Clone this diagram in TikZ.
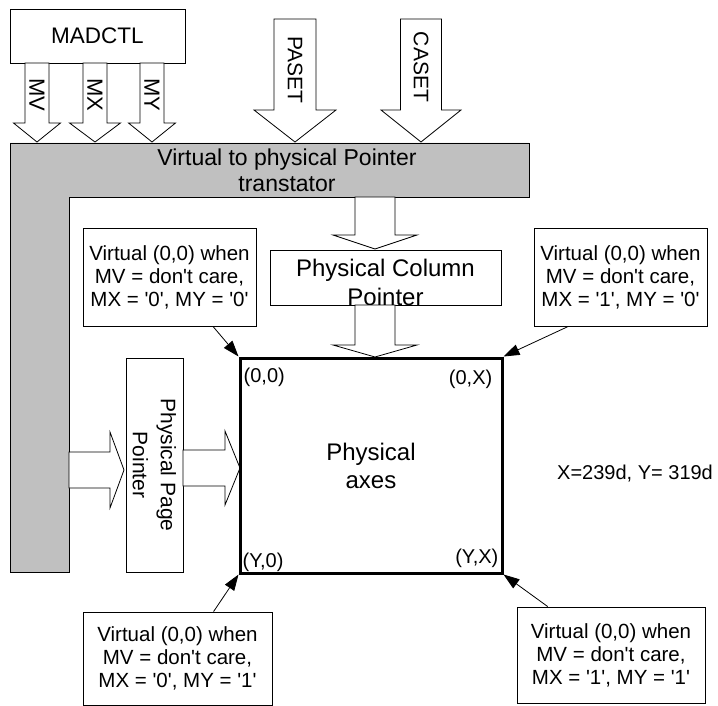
\documentclass[tikz,border=0pt]{standalone}
\usepackage{fontspec}
\setmainfont{Liberation Sans}[Ligatures=TeXOff]
\usetikzlibrary{arrows.meta,calc}

\definecolor{bargray}{RGB}{192,192,192}

% hollow block arrows: centre, start, head base, tip, half shaft, half head
\newcommand{\flowdown}[6]{%
  \draw[flow] ({#1-#5},#2) -- ({#1+#5},#2) -- ({#1+#5},#3) -- ({#1+#6},#3)
    -- (#1,#4) -- ({#1-#6},#3) -- ({#1-#5},#3) -- cycle;}
\newcommand{\flowright}[6]{%
  \draw[flow] (#2,{#1-#5}) -- (#3,{#1-#5}) -- (#3,{#1-#6}) -- (#4,#1)
    -- (#3,{#1+#6}) -- (#3,{#1+#5}) -- (#2,{#1+#5}) -- cycle;}

\begin{document}
\begin{tikzpicture}[x=1pt, y=-1pt,
    box/.style={draw, line width=0.8pt, fill=white, align=center},
    big/.style={font=\fontsize{23}{26}\selectfont},
    note/.style={box, inner sep=0pt, font=\fontsize{20.5}{23}\selectfont},
    corner/.style={inner sep=0pt, font=\fontsize{20}{24}\selectfont},
    flow/.style={draw, line width=0.8pt, fill=white},
    pointer/.style={-{Triangle[length=16pt,width=11pt]}, line width=0.8pt},
]
\useasboundingbox (0,0) rectangle (718,706);

% translator frame
\draw[flow, fill=bargray] (10,143) -- (529,143) -- (529,197) -- (69,197)
    -- (69,572) -- (10,572) -- cycle;
\node[big, align=center] (xlat) at (287,170) {Virtual to physical Pointer\\transtator};

% MADCTL bits
\node[box, big, font=\fontsize{22.5}{26}\selectfont, minimum width=175pt, minimum height=54pt] (madctl) at (97.5,36) {MADCTL};
\flowdown{37}{63}{123}{142}{12}{23.5}
\flowdown{95}{63}{123}{142}{12}{25.5}
\flowdown{152}{63}{123}{142}{12}{23.5}
\node[big, font=\fontsize{22}{26}\selectfont, rotate=-90] (mv) at (37,95) {MV};
\node[big, font=\fontsize{22}{26}\selectfont, rotate=-90] (mx) at (95,95) {MX};
\node[big, font=\fontsize{22}{26}\selectfont, rotate=-90] (my) at (152,95) {MY};

% page / column set
\flowdown{295}{19}{110}{142}{21}{41}
\flowdown{421}{19}{110}{142}{20.5}{40}
\node[big, font=\fontsize{21}{26}\selectfont, rotate=-90] (paset) at (295,70) {PASET};
\node[big, font=\fontsize{21}{26}\selectfont, rotate=-90] (caset) at (421,67) {CASET};

% column pointer
\flowdown{375}{197}{235}{249}{20}{42}
\node[box, minimum width=231pt, minimum height=55pt] (colptr) at (385.5,277.5) {};
\node[big, font=\fontsize{24}{29}\selectfont, align=center] (coltext) at ($(colptr.center)+(0,5)$) {Physical Column\\Pointer};
\flowdown{375}{305}{345}{357}{20}{42}

% page pointer
\flowright{470}{69}{110}{124}{18}{38}
\node[box, rotate=-90, inner sep=0pt, minimum width=214pt, minimum height=57pt,
    font=\fontsize{21}{28}\selectfont] (pageptr) at (154.5,465) {Physical Page\\Pointer};
\flowright{468}{183}{225}{240}{18}{37}

% physical axes
\node[draw, line width=3pt, align=center, minimum width=262pt, minimum height=215pt,
    font=\fontsize{24}{28}\selectfont] (axes) at (371,465.5) {Physical\\axes};
\node[corner, anchor=north west] (c00) at ($(axes.north west)+(5,11)$) {(0,0)};
\node[corner, anchor=north east] (c0x) at ($(axes.north east)+(-11,13)$) {(0,X)};
\node[corner, anchor=south west] (cy0) at ($(axes.south west)+(4,-3)$) {(Y,0)};
\node[corner, anchor=south east] (cyx) at ($(axes.south east)+(-5,-7)$) {(Y,X)};
\node[corner, anchor=west] (dims) at (557,474) {X=239d, Y= 319d};

% virtual origin notes
\node[note, minimum width=173pt, minimum height=98pt] (notetl) at (169.5,277) {Virtual (0,0) when\\MV = don't care,\\MX = '0', MY = '0'};
\node[note, minimum width=173pt, minimum height=98pt] (notetr) at (620.5,277) {Virtual (0,0) when\\MV = don't care,\\MX = '1', MY = '0'};
\node[note, minimum width=189pt, minimum height=93pt] (notebl) at (177.5,658.5) {Virtual (0,0) when\\MV = don't care,\\MX = '0', MY = '1'};
\node[note, minimum width=188pt, minimum height=96pt] (notebr) at (611,655) {Virtual (0,0) when\\MV = don't care,\\MX = '1', MY = '1'};

\draw[pointer] ($(notetl.south west)!0.75!(notetl.south east)$) -- (axes.north west);
\draw[pointer] ($(notetr.south west)!0.2!(notetr.south east)$) -- (axes.north east);
\draw[pointer] ($(notebl.north west)!0.69!(notebl.north east)$) -- (axes.south west);
\draw[pointer] ($(notebr.north west)!0.165!(notebr.north east)$) -- (axes.south east);

\end{tikzpicture}
\end{document}
